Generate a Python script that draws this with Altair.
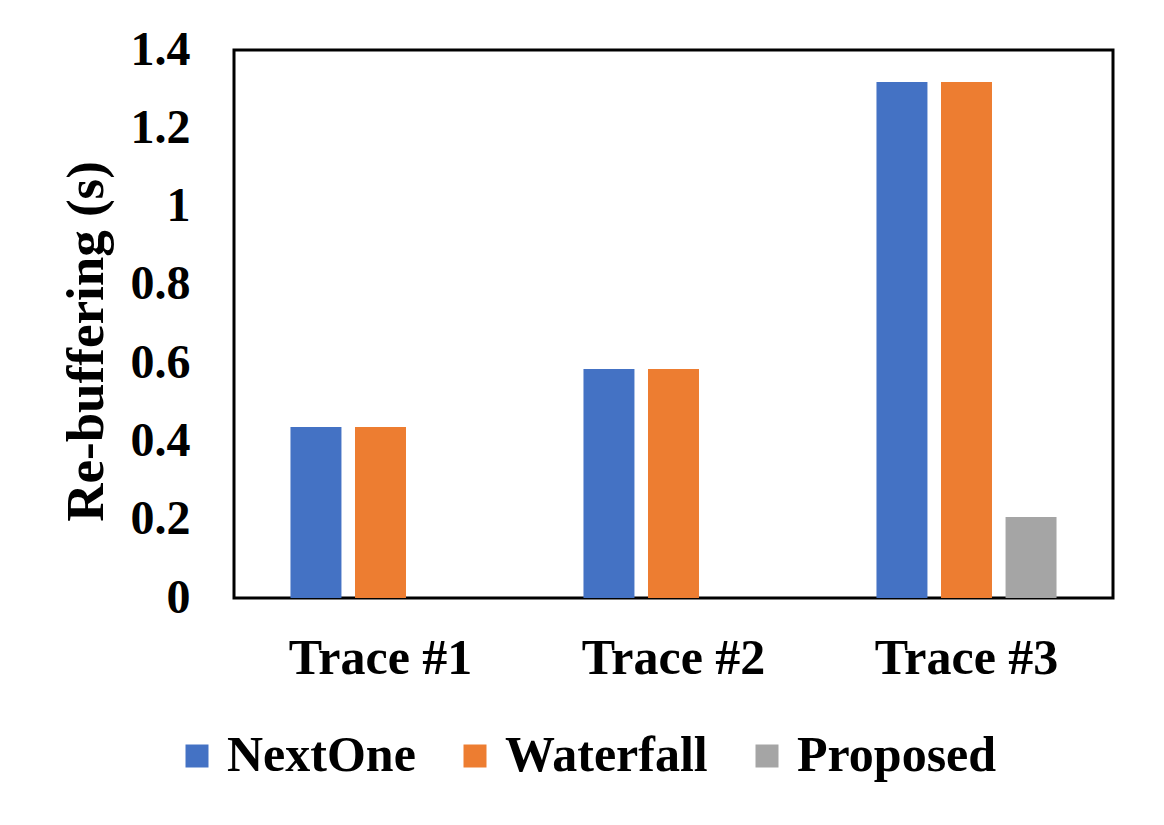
import altair as alt
import pandas as pd

traces = ["Trace #1", "Trace #2", "Trace #3"]
methods = ["NextOne", "Waterfall", "Proposed"]
nextone = [0.437, 0.585, 1.318]
waterfall = [0.437, 0.585, 1.318]
proposed = [0.0, 0.0, 0.207]
colors = ["#4472C4", "#ED7D31", "#A5A5A5"]
y_ticks = [0, 0.2, 0.4, 0.6, 0.8, 1.0, 1.2, 1.4]

rows = []
for i, t in enumerate(traces):
    for m, vals in zip(methods, [nextone, waterfall, proposed]):
        rows.append({"trace": t, "method": m, "value": vals[i]})
df = pd.DataFrame(rows)

FONT = "Liberation Serif"

chart = alt.Chart(df).mark_bar().encode(
    x=alt.X("trace:N", sort=traces,
            scale=alt.Scale(paddingInner=0, paddingOuter=0),
            axis=alt.Axis(title=None, labelAngle=0, labelFont=FONT, labelFontSize=50,
                          labelFontWeight="bold", labelColor="black", labelPadding=35,
                          labelLimit=400, ticks=False, domain=False)),
    xOffset=alt.XOffset("method:N", sort=methods,
                        scale=alt.Scale(paddingInner=0.21, paddingOuter=0.875)),
    y=alt.Y("value:Q",
            scale=alt.Scale(domain=[0, 1.4], nice=False),
            axis=alt.Axis(title="Re-buffering (s)", values=y_ticks, format="~g",
                          labelFont=FONT, labelFontSize=48, labelFontWeight="bold",
                          labelColor="black", labelPadding=44, ticks=False, domain=False,
                          grid=False, titleFont=FONT, titleFontSize=53,
                          titleFontWeight="bold", titleColor="black",
                          titleAngle=270, titleAlign="center", titleBaseline="bottom",
                          titleX=-121, titleY=291)),
    color=alt.Color("method:N", sort=methods,
                    scale=alt.Scale(domain=methods, range=colors),
                    legend=alt.Legend(title=None, orient="none", direction="horizontal",
                                      legendX=-62, legendY=681, padding=0,
                                      symbolType="square", symbolSize=529,
                                      symbolStrokeWidth=0, labelFont=FONT,
                                      labelFontSize=50, labelFontWeight="bold",
                                      labelColor="black", labelOffset=5,
                                      columnPadding=34, labelLimit=400)),
).properties(
    width=879,
    height=548,
    background="white",
    autosize=alt.AutoSizeParams(type="none"),
    padding={"left": 226, "top": 42, "right": 40, "bottom": 200},
).configure_view(
    stroke="black", strokeWidth=3
)

chart.save("out.html", embed_options={"renderer": "svg", "actions": False})
